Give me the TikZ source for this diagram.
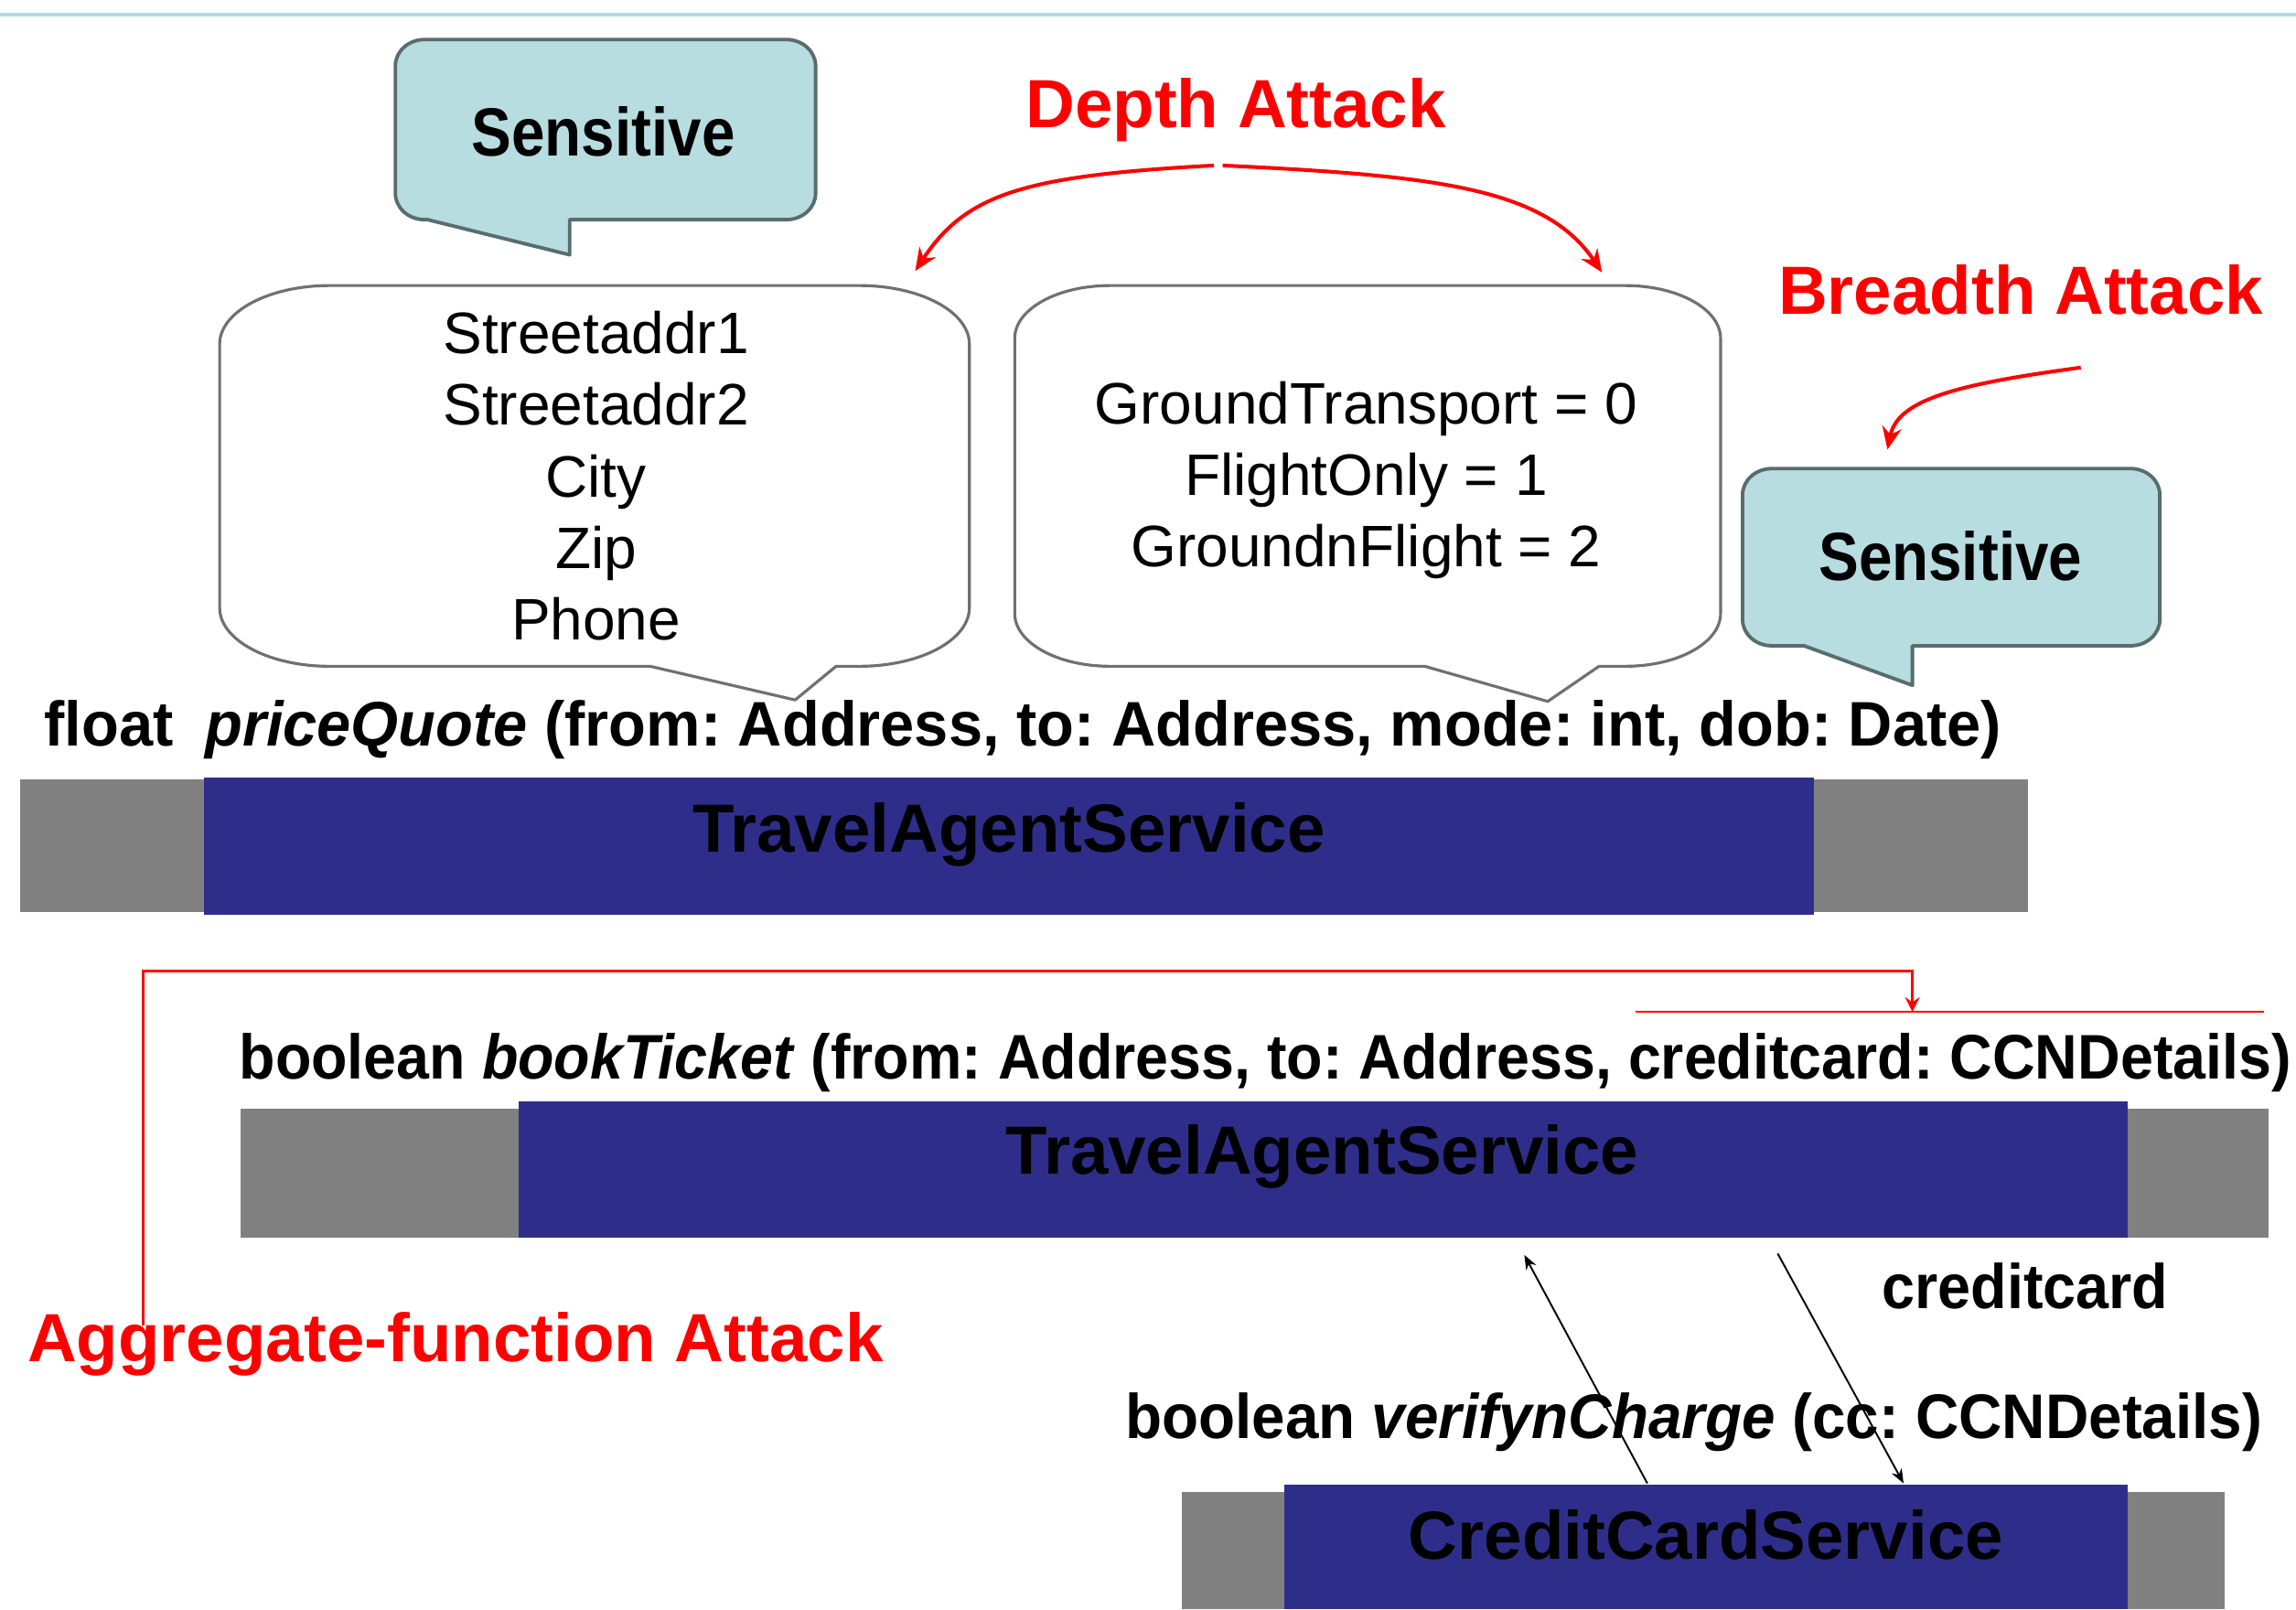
\documentclass[tikz,border=0pt]{standalone}
\usepackage{fontspec}
\setmainfont{Liberation Sans}
\newfontfamily\narrowfont[FakeStretch=0.88]{Liberation Sans}
\newfontfamily\sigfont[FakeStretch=0.94]{Liberation Sans}
\usetikzlibrary{arrows.meta,positioning}

\definecolor{calloutblue}{RGB}{183,221,225}
\definecolor{calloutedge}{RGB}{90,108,108}
\definecolor{bubbleedge}{RGB}{112,112,112}
\definecolor{servblue}{RGB}{46,46,138}
\definecolor{servgrey}{RGB}{128,128,128}
\definecolor{rulecyan}{RGB}{178,216,220}

% rounded callout: xl, yt, xr, yb, rx, ry, tail segment
\newcommand{\bubblepath}[7]{%
  (#1,#2+#6) arc[start angle=180,end angle=270,x radius=#5,y radius=#6]
  -- (#3-#5,#2) arc[start angle=270,end angle=360,x radius=#5,y radius=#6]
  -- (#3,#4-#6) arc[start angle=0,end angle=90,x radius=#5,y radius=#6]
  -- #7
  -- (#1+#5,#4) arc[start angle=90,end angle=180,x radius=#5,y radius=#6]
  -- cycle}

% signature line squeezed to a given width (in picture units)
\newsavebox{\sigbox}
\newcommand{\fitsig}[2]{%
  \sbox{\sigbox}{#2}%
  \pgfmathsetmacro{\sigratio}{#1*0.4552/\wd\sigbox}%
  \scalebox{\sigratio}[1]{\usebox{\sigbox}}}

\tikzset{
  sensbubble/.style={fill=calloutblue, draw=calloutedge, line width=1.1pt, line join=round},
  fieldbubble/.style={fill=white, draw=bubbleedge, line width=0.9pt, line join=round},
  sens/.style={font=\narrowfont\fontsize{21.2}{24}\selectfont\bfseries},
  field/.style={font=\fontsize{18.2}{22.3}\selectfont, align=center},
  attack/.style={text=red, font=\fontsize{21.2}{24}\selectfont\bfseries},
  sig/.style={font=\sigfont\fontsize{19.6}{22}\selectfont\bfseries\frenchspacing, anchor=west, inner sep=0pt},
  service/.style={font=\fontsize{21.2}{24}\selectfont\bfseries},
  redarrow/.style={red, line width=1.15pt, -{Stealth[length=7pt,width=6pt]}},
  aggline/.style={red, line width=0.8pt, -{Stealth[length=4.5pt,width=4.5pt]}},
  callarrow/.style={black, line width=0.55pt, -{Stealth[length=4.5pt,width=3.5pt]}},
}

\begin{document}
\begin{tikzpicture}[x=0.016cm, y=-0.016cm]
\useasboundingbox (0,0) rectangle (1568,1099);

\draw[rulecyan, line width=1pt] (0,10) -- (1568,10);

% callouts
\draw[sensbubble] \bubblepath{270}{27}{557}{150}{20}{18}{(389,150) -- (389,174) -- (292,150)};
\draw[fieldbubble] \bubblepath{150}{195}{662}{455}{75}{40}{(571,455) -- (543,478) -- (444,455)};
\draw[fieldbubble] \bubblepath{693}{195}{1175}{455}{65}{36}{(1092,455) -- (1057,479) -- (973,455)};
\draw[sensbubble] \bubblepath{1190}{320}{1475}{441}{20}{18}{(1306,441) -- (1306,468) -- (1232,441)};

\node[sens] (sensA) at (412,90) {Sensitive};
\node[sens] (sensB) at (1332,380) {Sensitive};
\node[field] (address) at (407,325) {Streetaddr1\\Streetaddr2\\City\\Zip\\Phone};
\node[field] (mode) at (933,328) {GroundTransport = 0\\FlightOnly = 1\\GroundnFlight = 2};

% attacks
\node[attack] (depth) at (844,75) {Depth Attack};
\node[attack] (breadth) at (1380,198) {Breadth Attack};
\node[attack, anchor=west] (aggr) at (11,918) {Aggregate-function Attack};

\coordinate (depthL) at (829,113);
\coordinate (depthR) at (835,113);
\coordinate (addrHit) at (625,185);
\coordinate (modeHit) at (1094,186);
\draw[redarrow] (depthL) .. controls (700,120) and (660,132) .. (addrHit);
\draw[redarrow] (depthR) .. controls (980,120) and (1055,128) .. (modeHit);

\coordinate (breadthS) at (1421,251);
\coordinate (sensHit) at (1289,307);
\draw[redarrow] (breadthS) .. controls (1340,262) and (1296,272) .. (sensHit);

% services
\fill[servgrey] (14,532) rectangle (1385,623);
\fill[servblue] (139,531) rectangle (1239,625);
\node[service] (travelA) at (689,570) {TravelAgentService};

\fill[servgrey] (164,757) rectangle (1549,845);
\fill[servblue] (354,752) rectangle (1453,845);
\node[service] (travelB) at (903,790) {TravelAgentService};

\fill[servgrey] (807,1019) rectangle (1519,1099);
\fill[servblue] (877,1014) rectangle (1453,1099);
\node[service] (credit) at (1165,1048) {CreditCardService};

% signatures
\node[sig] (quote) at (30,498) {\fitsig{1337}{float\hspace{9.5pt}\textit{priceQuote} (from: Address, to: Address, mode: int, dob: Date)}};
\node[sig] (book) at (163,726) {\fitsig{1402}{boolean \textit{bookTicket} (from: Address, to: Address, creditcard: CCNDetails)}};
\node[sig] (verify) at (768,971) {\fitsig{777}{boolean \textit{verifynCharge} (cc: CCNDetails)}};
\node[sig, anchor=center] (card) at (1383,878) {creditcard};

% aggregate attack
\coordinate (aggS) at (98,905);
\coordinate (ulL) at (1117,691);
\coordinate (ulR) at (1546,691);
\coordinate (aggHit) at (1306,691);
\draw[aggline] (aggS) -- ++(0,-242) -| (aggHit);
\draw[red, line width=0.5pt] (ulL) -- (ulR);

% calls between services
\coordinate (callA) at (1125,1013);
\coordinate (backA) at (1041,857);
\coordinate (callB) at (1214,856);
\coordinate (backB) at (1300,1013);
\draw[callarrow] (callA) -- (backA);
\draw[callarrow] (callB) -- (backB);
\end{tikzpicture}
\end{document}
